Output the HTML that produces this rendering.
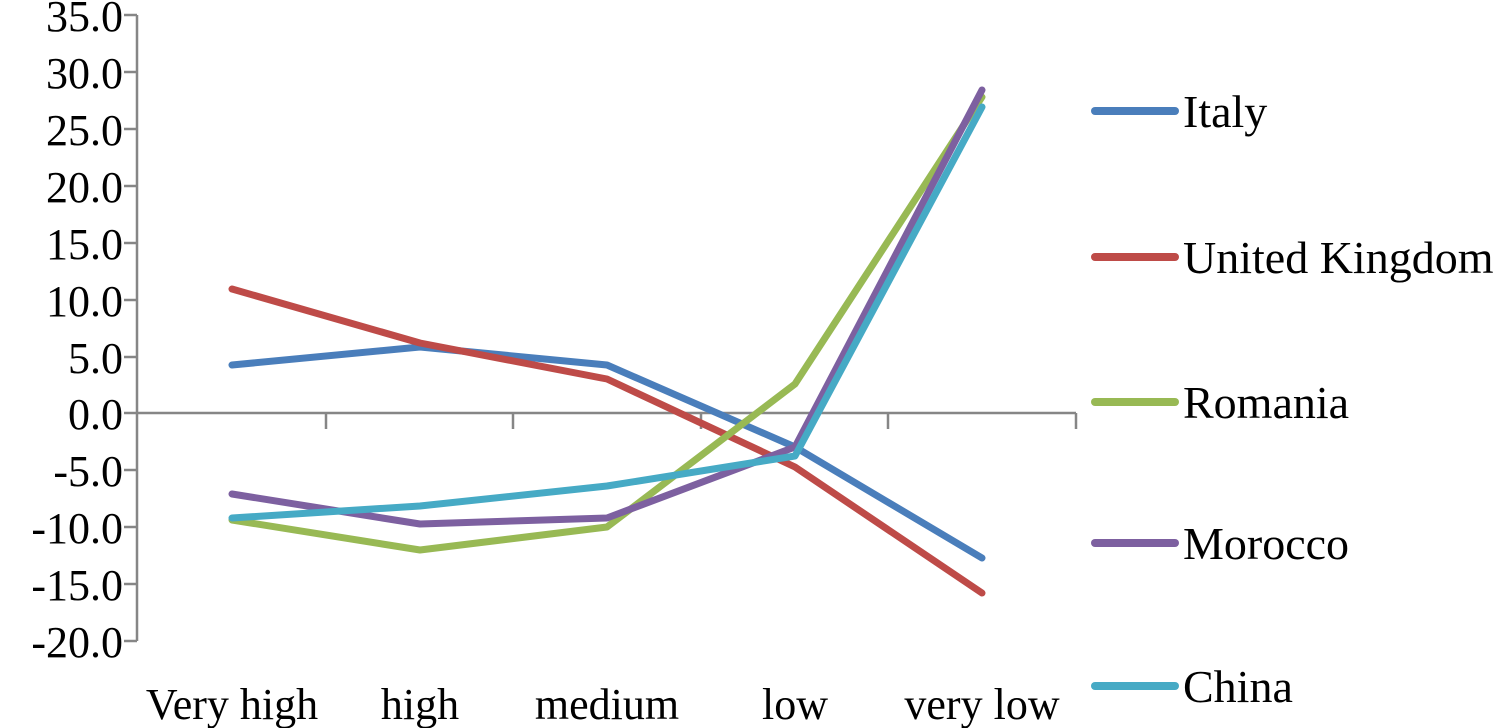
<!DOCTYPE html>
<html><head><meta charset="utf-8"><style>
html,body{margin:0;padding:0;background:#fff;}
svg{display:block;}
text{font-family:"Liberation Serif",serif;fill:#000;}
</style></head><body>
<svg width="1500" height="728" viewBox="0 0 1500 728" xmlns="http://www.w3.org/2000/svg">
<g stroke="#868686" stroke-width="2.5" fill="none">
<line x1="137" y1="15" x2="137" y2="641"/>
<line x1="137" y1="413" x2="1076" y2="413"/>
<line x1="326" y1="413" x2="326" y2="429"/>
<line x1="513" y1="413" x2="513" y2="429"/>
<line x1="701" y1="413" x2="701" y2="429"/>
<line x1="888" y1="413" x2="888" y2="429"/>
<line x1="1076" y1="413" x2="1076" y2="429"/>
<line x1="124" y1="15" x2="137" y2="15"/>
<line x1="124" y1="72" x2="137" y2="72"/>
<line x1="124" y1="129" x2="137" y2="129"/>
<line x1="124" y1="186" x2="137" y2="186"/>
<line x1="124" y1="243" x2="137" y2="243"/>
<line x1="124" y1="300" x2="137" y2="300"/>
<line x1="124" y1="357" x2="137" y2="357"/>
<line x1="124" y1="413" x2="137" y2="413"/>
<line x1="124" y1="470" x2="137" y2="470"/>
<line x1="124" y1="527" x2="137" y2="527"/>
<line x1="124" y1="584" x2="137" y2="584"/>
<line x1="124" y1="641" x2="137" y2="641"/>
</g>
<g font-size="44" text-anchor="end">
<text x="123" y="31">35.0</text>
<text x="123" y="88">30.0</text>
<text x="123" y="145">25.0</text>
<text x="123" y="202">20.0</text>
<text x="123" y="259">15.0</text>
<text x="123" y="316">10.0</text>
<text x="123" y="373">5.0</text>
<text x="123" y="429">0.0</text>
<text x="123" y="486">-5.0</text>
<text x="123" y="543">-10.0</text>
<text x="123" y="600">-15.0</text>
<text x="123" y="657">-20.0</text>
</g>
<g font-size="44" text-anchor="middle">
<text x="232" y="719">Very high</text>
<text x="420" y="719">high</text>
<text x="607" y="719">medium</text>
<text x="795" y="719">low</text>
<text x="982" y="719">very low</text>
</g>
<g fill="none" stroke-width="7" stroke-linejoin="round" stroke-linecap="round">
<polyline stroke="#4a7ebb" points="232,365 420,347 607,365 795,447 982,558"/>
<polyline stroke="#be4b48" points="232,289 420,343 607,379 795,467 982,593"/>
<polyline stroke="#98b954" points="232,520 420,550 607,527 795,384 982,97"/>
<polyline stroke="#7d60a0" points="232,494 420,524 607,518 795,447 982,90"/>
<polyline stroke="#46aac5" points="232,518 420,506 607,486 795,456 982,107"/>
</g>
<g stroke-width="8" stroke-linecap="round">
<line x1="1095" y1="111" x2="1175" y2="111" stroke="#4a7ebb"/>
<line x1="1095" y1="257" x2="1175" y2="257" stroke="#be4b48"/>
<line x1="1095" y1="402" x2="1175" y2="402" stroke="#98b954"/>
<line x1="1095" y1="543" x2="1175" y2="543" stroke="#7d60a0"/>
<line x1="1095" y1="686" x2="1175" y2="686" stroke="#46aac5"/>
</g>
<g font-size="46">
<text x="1183" y="127">Italy</text>
<text x="1183" y="273">United Kingdom</text>
<text x="1183" y="418">Romania</text>
<text x="1183" y="559">Morocco</text>
<text x="1183" y="702">China</text>
</g>
</svg>
</body></html>
